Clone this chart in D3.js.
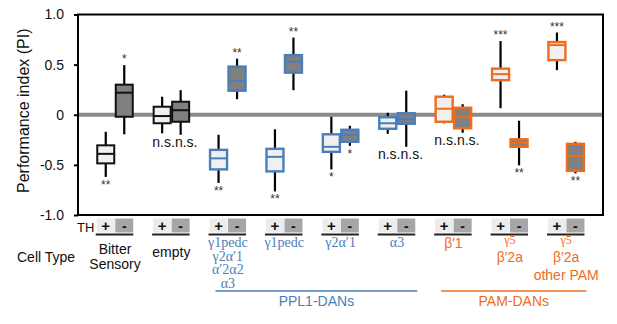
<!DOCTYPE html>
<html>
<head>
<meta charset="utf-8">
<script src="https://cdn.jsdelivr.net/npm/d3@7"></script>
<style>
  body { margin: 0; background: #fff; }
  text { font-family: Arial, "Liberation Sans", sans-serif; }
</style>
</head>
<body>
<div id="chart"></div>
<script>
// groups (cell types) and their family
const groups = ["bitter", "empty", "ppl1All", "g1pedc", "g2a1", "a3", "b1", "g5b2a", "g5b2aOther"];
const family = ["ctrl", "ctrl", "ppl1", "ppl1", "ppl1", "ppl1", "pam", "pam", "pam"];
const groupLabels = [
  ["Bitter", "Sensory"], ["empty"],
  ["γ1pedc", "γ2α′1", "α′2α2", "α3"], ["γ1pedc"], ["γ2α′1"], ["α3"],
  ["β′1"], ["γ5", "β′2a"], ["γ5", "β′2a", "other PAM"]
];
// box stats per group: [whisker low, q1, median, q3, whisker high]
const thPlus = [
  [-0.62, -0.485, -0.39, -0.305, -0.17],
  [-0.185, -0.085, -0.013, 0.08, 0.18],
  [-0.68, -0.545, -0.435, -0.35, -0.2],
  [-0.765, -0.565, -0.42, -0.34, -0.145],
  [-0.545, -0.37, -0.32, -0.195, -0.02],
  [-0.19, -0.14, -0.085, -0.025, 0.02],
  [-0.085, -0.07, 0.06, 0.18, 0.2],
  [0.065, 0.345, 0.405, 0.46, 0.735],
  [0.445, 0.545, 0.695, 0.725, 0.82]
];
const thMinus = [
  [-0.195, -0.02, 0.22, 0.30, 0.495],
  [-0.2, -0.07, 0.045, 0.13, 0.245],
  [0.155, 0.24, 0.34, 0.48, 0.56],
  [0.245, 0.42, 0.53, 0.595, 0.77],
  [-0.31, -0.27, -0.2, -0.15, -0.11],
  [-0.32, -0.09, -0.045, 0.015, 0.24],
  [-0.18, -0.135, -0.02, 0.07, 0.105],
  [-0.505, -0.32, -0.28, -0.245, -0.06],
  [-0.585, -0.56, -0.41, -0.29, -0.27]
];
const sigPlus = ["**", "n.s.", "**", "**", "*", "n.s.", "n.s.", "***", "***"];
const sigMinus = ["*", "n.s.", "**", "**", "*", "n.s.", "n.s.", "**", "**"];
const yTicks = [-1, -0.5, 0, 0.5, 1];
const yTickLabels = ["-1.0", "-0.5", "0", "0.5", "1.0"];

const W = 617, H = 324;
const colors = { ctrl: "#111", ppl1: "#4a7ebb", pam: "#ef6c1e" };
const fillPlus = "#f0f0f0", fillMinus = "#808080";

const svg = d3.select("#chart").append("svg")
    .attr("width", W).attr("height", H);

const mLeft = 78, mRight = 603, mTop = 14.5, mBottom = 215;
const y = d3.scaleLinear().domain([-1, 1]).range([mBottom, mTop]);
const x = d3.scaleBand().domain(groups).range([86.8, 594.4]);
const sub = d3.scaleBand().domain(["+", "-"])
    .range([x.bandwidth() / 2 - 18.5, x.bandwidth() / 2 + 18.5]);
const subC = th => sub(th) + sub.bandwidth() / 2;
const boxW = 17;

// zero line
svg.append("line")
    .attr("x1", mLeft).attr("x2", mRight)
    .attr("y1", y(0)).attr("y2", y(0))
    .attr("stroke", "#8a8a8a").attr("stroke-width", 4);

// y axis
const yAxis = d3.axisLeft(y).tickValues(yTicks)
    .tickFormat((d, i) => yTickLabels[i]).tickSize(4).tickPadding(10);
const ga = svg.append("g").attr("transform", `translate(${mLeft},0)`).call(yAxis);
ga.select(".domain").remove();
ga.selectAll(".tick line").attr("stroke", "#000").attr("stroke-width", 2);
ga.selectAll(".tick text").attr("font-size", 14).attr("fill", "#111")
    .style("font-family", "Arial, 'Liberation Sans', sans-serif");

svg.append("text")
    .attr("transform", `translate(29,${(mTop + mBottom) / 2 - 4}) rotate(-90)`)
    .attr("text-anchor", "middle")
    .attr("font-size", 16).attr("fill", "#111")
    .text("Performance index (PI)");

// boxes
const rows = [];
groups.forEach((g, i) => {
  rows.push({ g, i, th: "+", s: thPlus[i], sig: sigPlus[i] });
  rows.push({ g, i, th: "-", s: thMinus[i], sig: sigMinus[i] });
});
const cx = d => x(d.g) + subC(d.th);
const mid = d => x(d.g) + x.bandwidth() / 2;

const box = svg.append("g").selectAll("g").data(rows).join("g");
box.append("line")
    .attr("x1", cx).attr("x2", cx)
    .attr("y1", d => y(d.s[0])).attr("y2", d => y(d.s[4]))
    .attr("stroke", "#000").attr("stroke-width", 2.2);
box.append("rect")
    .attr("x", d => cx(d) - boxW / 2)
    .attr("y", d => y(d.s[3]))
    .attr("width", boxW)
    .attr("height", d => y(d.s[1]) - y(d.s[3]))
    .attr("fill", d => d.th === "+" ? fillPlus : fillMinus)
    .attr("stroke", d => colors[family[d.i]])
    .attr("stroke-width", d => family[d.i] === "ctrl" ? 2 : 2.4);
box.append("line")
    .attr("x1", d => cx(d) - boxW / 2).attr("x2", d => cx(d) + boxW / 2)
    .attr("y1", d => y(d.s[2])).attr("y2", d => y(d.s[2]))
    .attr("stroke", d => colors[family[d.i]])
    .attr("stroke-width", 2);

// significance marks
const ns = d => d.sig === "n.s.";
box.append("text")
    .attr("x", d => ns(d) ? mid(d) + 3.5 : cx(d))
    .attr("y", d => {
      if (ns(d)) {
        const lo = Math.min(thPlus[d.i][0], thMinus[d.i][0]);
        return y(lo) + 12;
      }
      return d.s[2] > 0 ? y(d.s[4]) - 2 : y(d.s[0]) + 12;
    })
    .attr("text-anchor", d => ns(d) ? (d.th === "+" ? "end" : "start") : "middle")
    .attr("font-size", d => ns(d) ? 14 : 12)
    .attr("fill", d => ns(d) ? "#111" : "#333")
    .text(d => d.sig);

// frame
svg.append("rect")
    .attr("x", mLeft).attr("y", mTop)
    .attr("width", mRight - mLeft).attr("height", mBottom - mTop)
    .attr("fill", "none").attr("stroke", "#000").attr("stroke-width", 2);

// TH row
svg.append("text").attr("x", 77).attr("y", 232)
    .attr("font-size", 13).attr("fill", "#111").text("TH");
const cells = svg.append("g").selectAll("g").data(rows).join("g");
cells.append("rect")
    .attr("x", d => cx(d) - 9).attr("y", 218.5)
    .attr("width", 18).attr("height", 14)
    .attr("fill", d => d.th === "+" ? "#ececec" : "#a6a6a6");
cells.append("text")
    .attr("x", cx).attr("y", 231)
    .attr("text-anchor", "middle")
    .attr("font-size", d => d.th === "+" ? 15 : 14)
    .attr("font-weight", "bold")
    .attr("fill", "#111")
    .text(d => d.th);
svg.append("g").selectAll("line").data(groups).join("line")
    .attr("x1", d => x(d) + subC("+") - 10).attr("x2", d => x(d) + subC("-") + 9)
    .attr("y1", 234.5).attr("y2", 234.5)
    .attr("stroke", "#222").attr("stroke-width", 2);

// cell type labels
svg.append("text").attr("x", 17).attr("y", 262)
    .attr("font-size", 14).attr("fill", "#111").text("Cell Type");

const serifFam = "'Liberation Serif', 'DejaVu Serif', serif";
groups.forEach((g, i) => {
  const col = family[i] === "ctrl" ? "#111" : colors[family[i]];
  const lines = groupLabels[i];
  lines.forEach((t, j) => {
    const isGreekSerif = family[i] === "ppl1" || t === "γ5";
    let yy;
    if (family[i] === "pam") {
      const lineYs = lines[0] === "γ5" ? [244, 262, 280] : [248];
      yy = lineYs[j];
    } else if (family[i] === "ctrl") {
      yy = (lines.length > 1 ? 254 : 257) + j * 15;
    } else {
      yy = 247 + j * 13.7;
    }
    svg.append("text")
        .attr("x", x(g) + x.bandwidth() / 2)
        .attr("y", yy)
        .attr("text-anchor", "middle")
        .attr("font-size", t === "γ5" ? 12 : 14)
        .attr("fill", col)
        .style("font-family", isGreekSerif ? serifFam : null)
        .text(t);
  });
});

// family brackets
const fams = [
  { name: "PPL1-DANs", from: "ppl1All", to: "a3", col: colors.ppl1 },
  { name: "PAM-DANs", from: "b1", to: "g5b2aOther", col: colors.pam }
];
fams.forEach(f => {
  const x1 = x(f.from) + subC("+") - 3;
  const x2 = x(f.to) + subC("-") + 11;
  svg.append("line").attr("x1", x1).attr("x2", x2)
      .attr("y1", 291).attr("y2", 291)
      .attr("stroke", f.col).attr("stroke-width", 1.6);
  svg.append("text").attr("x", (x1 + x2) / 2).attr("y", 306)
      .attr("text-anchor", "middle").attr("font-size", 14)
      .attr("fill", f.col).text(f.name);
});
</script>
</body>
</html>
